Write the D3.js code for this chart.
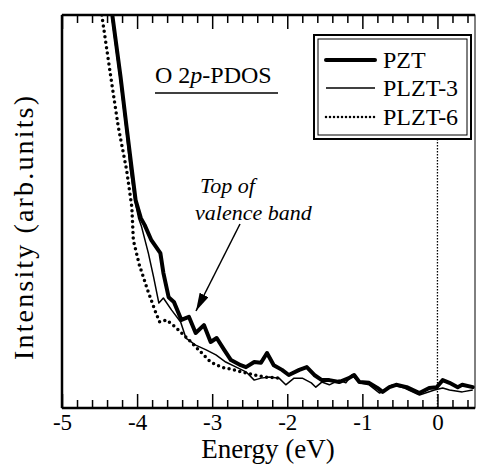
<!DOCTYPE html>
<html>
<head>
<meta charset="utf-8">
<script src="https://cdn.jsdelivr.net/npm/d3@7"></script>
<style>
  body { margin: 0; background: #fff; }
  text { font-family: "Liberation Serif", "Times New Roman", serif; fill: #000; }
</style>
</head>
<body>
<div id="chart"></div>
<script>
// energy (eV) and intensity (arb. units)
const pztE = [-4.33, -4.22, -4.14, -4.07, -4.02, -3.95, -3.90, -3.81, -3.69, -3.65, -3.58, -3.51, -3.41, -3.31, -3.22, -3.11, -3.02, -2.94, -2.84, -2.75, -2.62, -2.55, -2.44, -2.35, -2.27, -2.18, -2.07, -1.98, -1.84, -1.74, -1.64, -1.54, -1.44, -1.31, -1.18, -1.11, -1.04, -0.91, -0.80, -0.73, -0.64, -0.55, -0.41, -0.24, -0.11, -0.01, 0.07, 0.16, 0.27, 0.33, 0.47];
const pztI = [100, 84.2, 71.5, 60.6, 52.9, 48.3, 46.6, 42.7, 39.4, 34.4, 28.2, 27.0, 22.4, 23.2, 19.1, 21.1, 16.8, 17.8, 14.8, 12.2, 10.9, 10.4, 11.7, 11.5, 14.0, 10.9, 9.7, 8.4, 9.7, 10.4, 8.4, 7.1, 7.1, 6.6, 7.6, 8.4, 6.6, 6.4, 5.1, 4.1, 5.3, 5.9, 5.3, 3.8, 5.1, 5.3, 7.1, 6.4, 5.3, 5.9, 5.3];

const plzt3E = [-4.34, -4.23, -4.15, -4.09, -4.03, -3.98, -3.94, -3.85, -3.78, -3.71, -3.65, -3.54, -3.42, -3.35, -3.22, -3.08, -2.95, -2.82, -2.68, -2.55, -2.44, -2.35, -2.24, -2.11, -2.02, -1.91, -1.80, -1.68, -1.62, -1.54, -1.44, -1.31, -1.22, -1.14, -1.04, -0.91, -0.77, -0.60, -0.44, -0.24, -0.04, 0.07, 0.16, 0.33, 0.47];
const plzt3I = [100, 84.2, 71.5, 60.6, 52.9, 48.3, 46.1, 39.4, 33.3, 26.7, 28.0, 24.9, 21.9, 17.8, 16.0, 14.8, 13.5, 11.7, 10.4, 9.2, 7.1, 7.6, 7.9, 7.6, 5.9, 7.6, 7.6, 6.4, 5.3, 6.6, 5.9, 7.1, 6.4, 8.4, 6.4, 5.9, 3.8, 5.9, 5.1, 3.3, 4.6, 5.1, 4.6, 4.1, 4.6];

const plzt6E = [-4.47, -4.35, -4.25, -4.14, -4.07, -4.05, -3.97, -3.86, -3.75, -3.70, -3.61, -3.49, -3.31, -3.14, -3.02, -2.88, -2.71, -2.51, -2.31, -2.11];
const plzt6I = [100, 84.2, 71.5, 60.6, 51.1, 42.7, 36.4, 30.0, 24.2, 21.9, 22.4, 20.6, 17.3, 14.0, 11.7, 10.4, 9.7, 8.7, 7.9, 7.6];

const seriesNames = ["PZT", "PLZT-3", "PLZT-6"];
const xTicks = [-5, -4, -3, -2, -1, 0];

const width = 477, height = 475;
const plotLeft = 62, plotRight = 475, plotTop = 15, plotBottom = 408;

const svg = d3.select("#chart").append("svg")
  .attr("width", width)
  .attr("height", height);

const x = d3.scaleLinear().domain([-5, 0.5]).range([plotLeft, plotRight]);
const y = d3.scaleLinear().domain([0, 100]).range([plotBottom, plotTop]);

svg.append("clipPath").attr("id", "plot-clip")
  .append("rect")
  .attr("x", plotLeft).attr("y", plotTop)
  .attr("width", plotRight - plotLeft).attr("height", plotBottom - plotTop);

// Fermi level marker
svg.append("line")
  .attr("x1", x(0)).attr("x2", x(0))
  .attr("y1", 139).attr("y2", plotBottom)
  .style("stroke", "#000")
  .style("stroke-width", 1.3)
  .style("stroke-dasharray", "1.5 1.5");

// curves
const line = d3.line()
  .x(d => x(d[0]))
  .y(d => y(d[1]))
  .curve(d3.curveLinear);

const styles = {
  "PZT": { width: 4, dash: null, cap: "round" },
  "PLZT-3": { width: 1.5, dash: null, cap: "butt" },
  "PLZT-6": { width: 3.5, dash: "0 5.5", cap: "round" }
};

const curves = [
  ["PLZT-6", d3.zip(plzt6E, plzt6I)],
  ["PLZT-3", d3.zip(plzt3E, plzt3I)],
  ["PZT", d3.zip(pztE, pztI)]
];

svg.append("g")
  .attr("clip-path", "url(#plot-clip)")
  .selectAll("path")
  .data(curves)
  .enter().append("path")
  .attr("d", d => line(d[1]))
  .style("fill", "none")
  .style("stroke", "#000")
  .style("stroke-width", d => styles[d[0]].width)
  .style("stroke-dasharray", d => styles[d[0]].dash)
  .style("stroke-linecap", d => styles[d[0]].cap)
  .style("stroke-linejoin", "round");

// frame
svg.append("rect")
  .attr("x", plotLeft).attr("y", plotTop)
  .attr("width", plotRight - plotLeft).attr("height", plotBottom - plotTop)
  .style("fill", "none")
  .style("stroke", "#000")
  .style("stroke-width", 1);
svg.append("line").attr("x1", plotLeft).attr("x2", plotRight).attr("y1", plotBottom).attr("y2", plotBottom)
  .style("stroke", "#000").style("stroke-width", 2.5);
svg.append("line").attr("x1", plotLeft).attr("x2", plotRight).attr("y1", plotTop).attr("y2", plotTop)
  .style("stroke", "#000").style("stroke-width", 2.5);
svg.append("line").attr("x1", plotLeft).attr("x2", plotLeft).attr("y1", plotTop).attr("y2", plotBottom)
  .style("stroke", "#000").style("stroke-width", 2.5);

// ticks (inward, top and bottom)
const minorTicks = d3.range(-50, 6).map(d => d / 10).filter(d => Math.round(d * 10) % 2 === 0 && !xTicks.includes(d));

const bottomAxis = d3.axisBottom(x).tickValues(xTicks).tickSizeInner(-14).tickSizeOuter(0).tickFormat(d => String(d));
const bottomMinor = d3.axisBottom(x).tickValues(minorTicks).tickSizeInner(-8).tickSizeOuter(0).tickFormat("");
const topAxis = d3.axisTop(x).tickValues(xTicks).tickSizeInner(-14).tickSizeOuter(0).tickFormat("");
const topMinor = d3.axisTop(x).tickValues(minorTicks).tickSizeInner(-8).tickSizeOuter(0).tickFormat("");

const gb = svg.append("g").attr("transform", `translate(0,${plotBottom})`).call(bottomAxis);
svg.append("g").attr("transform", `translate(0,${plotBottom})`).call(bottomMinor);
svg.append("g").attr("transform", `translate(0,${plotTop})`).call(topAxis);
svg.append("g").attr("transform", `translate(0,${plotTop})`).call(topMinor);

svg.selectAll(".domain").remove();
svg.selectAll(".tick line").style("stroke", "#000").style("stroke-width", 1.5);

gb.selectAll(".tick text")
  .attr("y", 22)
  .attr("dy", 0)
  .style("font-size", "23px")
  .style("font-family", "'Liberation Serif', 'Times New Roman', serif");

// axis titles
svg.append("text")
  .attr("x", 268).attr("y", 458)
  .attr("text-anchor", "middle")
  .style("font-size", "27px")
  .text("Energy (eV)");

svg.append("text")
  .attr("transform", "translate(33,228) rotate(-90)")
  .attr("text-anchor", "middle")
  .attr("textLength", 264)
  .attr("lengthAdjust", "spacing")
  .style("font-size", "28px")
  .text("Intensity (arb.units)");

// panel label
const title = svg.append("text")
  .attr("x", 155).attr("y", 83)
  .style("font-size", "24px");
title.append("tspan").text("O 2");
title.append("tspan").style("font-style", "italic").text("p");
title.append("tspan").text("-PDOS");
svg.append("line")
  .attr("x1", 155).attr("x2", 278).attr("y1", 93).attr("y2", 93)
  .style("stroke", "#000").style("stroke-width", 1.5);

// annotation
svg.append("text")
  .attr("x", 200).attr("y", 193)
  .style("font-size", "22px").style("font-style", "italic")
  .text("Top of");
svg.append("text")
  .attr("x", 195).attr("y", 220)
  .style("font-size", "22px").style("font-style", "italic")
  .text("valence band");

svg.append("defs").append("marker")
  .attr("id", "arrow-head")
  .attr("viewBox", "0 0 18 10")
  .attr("refX", 18).attr("refY", 5)
  .attr("markerWidth", 18).attr("markerHeight", 10)
  .attr("markerUnits", "userSpaceOnUse")
  .attr("orient", "auto")
  .append("path")
  .attr("d", "M0,0 L18,5 L0,10 z")
  .style("fill", "#000");

svg.append("line")
  .attr("x1", 240).attr("y1", 224)
  .attr("x2", 196).attr("y2", 311)
  .style("stroke", "#000")
  .style("stroke-width", 1.5)
  .attr("marker-end", "url(#arrow-head)");

// legend with double border
svg.append("rect")
  .attr("x", 314).attr("y", 35).attr("width", 157).attr("height", 104)
  .style("fill", "#fff").style("stroke", "#000").style("stroke-width", 2);
svg.append("rect")
  .attr("x", 318).attr("y", 39).attr("width", 149).attr("height", 96)
  .style("fill", "none").style("stroke", "#000").style("stroke-width", 1);

const legendY = [60, 88, 117];
const legend = svg.append("g").selectAll("g")
  .data(seriesNames)
  .enter().append("g");

legend.append("line")
  .attr("x1", 326).attr("x2", 375)
  .attr("y1", (d, i) => legendY[i]).attr("y2", (d, i) => legendY[i])
  .style("stroke", "#000")
  .style("stroke-width", d => d === "PLZT-6" ? 2.5 : styles[d].width)
  .style("stroke-dasharray", d => d === "PLZT-6" ? "0 4" : null)
  .style("stroke-linecap", d => styles[d].cap);

legend.append("text")
  .attr("x", 383)
  .attr("y", (d, i) => legendY[i] + 8)
  .style("font-size", "24px")
  .text(d => d);
</script>
</body>
</html>
